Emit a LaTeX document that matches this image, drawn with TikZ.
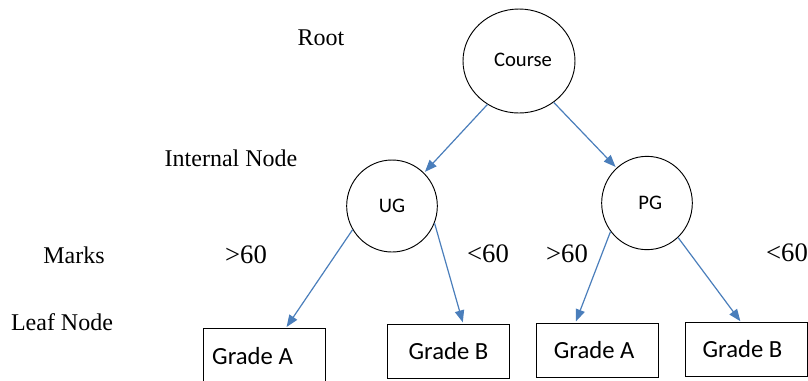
\documentclass[tikz,border=0pt]{standalone}
\usepackage{fontspec}
\setmainfont{Liberation Serif}
\newfontfamily\calibri{Carlito}
\usetikzlibrary{positioning,shapes.geometric,arrows.meta}
\definecolor{linkblue}{RGB}{74,126,187}

\begin{document}
\begin{tikzpicture}[x=0.75pt,y=-0.75pt,
                side/.style={font=\fontsize{18}{20}\selectfont},
                marklabel/.style={font=\fontsize{20}{22}\selectfont},
                vertex/.style={draw,ellipse,line width=0.7pt,inner sep=0pt,font=\calibri\fontsize{15.5}{17}\selectfont},
                leaf/.style={draw,rectangle,line width=0.8pt,minimum width=91pt,minimum height=41pt,font=\calibri\fontsize{18.5}{20}\selectfont},
                link/.style={linkblue,line width=0.9pt,-{Triangle[length=9pt,width=7pt]},shorten >=1pt}]
                \useasboundingbox (0,0) rectangle (808,380);
                % labels on the left
                \node[side] (root) at (321,38) {Root};
                \node[side] (internal) at (231,158) {Internal Node};
                \node[side] (marks) at (74,255) {Marks};
                \node[side] (leafnode) at (62,322) {Leaf Node};
                % tree
                \node[vertex,minimum width=84pt,minimum height=78pt] (course) at (519,61) {\kern6pt\raisebox{2pt}{Course}};
                \node[vertex,minimum width=68pt,minimum height=69pt] (ug) at (392,206) {UG};
                \node[vertex,minimum width=68pt,minimum height=70pt] (pg) at (647,203) {\kern5pt PG};
                \node[leaf,minimum width=92pt,inner xsep=1pt] (ga1) at (264.5,356) {Grade A\kern18pt};
                \node[leaf] (gb1) at (448.5,351.5) {Grade B};
                \node[leaf] (ga2) at (597.5,350.5) {Grade A\kern5pt};
                \node[leaf,minimum height=40pt] (gb2) at (746.5,349.5) {Grade B\kern6pt};
                % marks
                \node[marklabel] (gt1) at (246,255) {>60};
                \node[marklabel] (lt1) at (488,254) {<60};
                \node[marklabel] (gt2) at (567,254) {>60};
                \node[marklabel] (lt2) at (787,253) {<60};
                \draw[link] (course.234) -- (ug.46);
                \draw[link] (course.310) -- (pg.131);
                \draw[link] (ug.211) -- ([xshift=16pt]ga1.north);
                \draw[link] (ug.338) -- ([xshift=11pt]gb1.north);
                \draw[link] (pg.218) -- ([xshift=-16.5pt]ga2.north);
                \draw[link] (pg.312) -- ([xshift=-4pt]gb2.north);
            \end{tikzpicture}
\end{document}
